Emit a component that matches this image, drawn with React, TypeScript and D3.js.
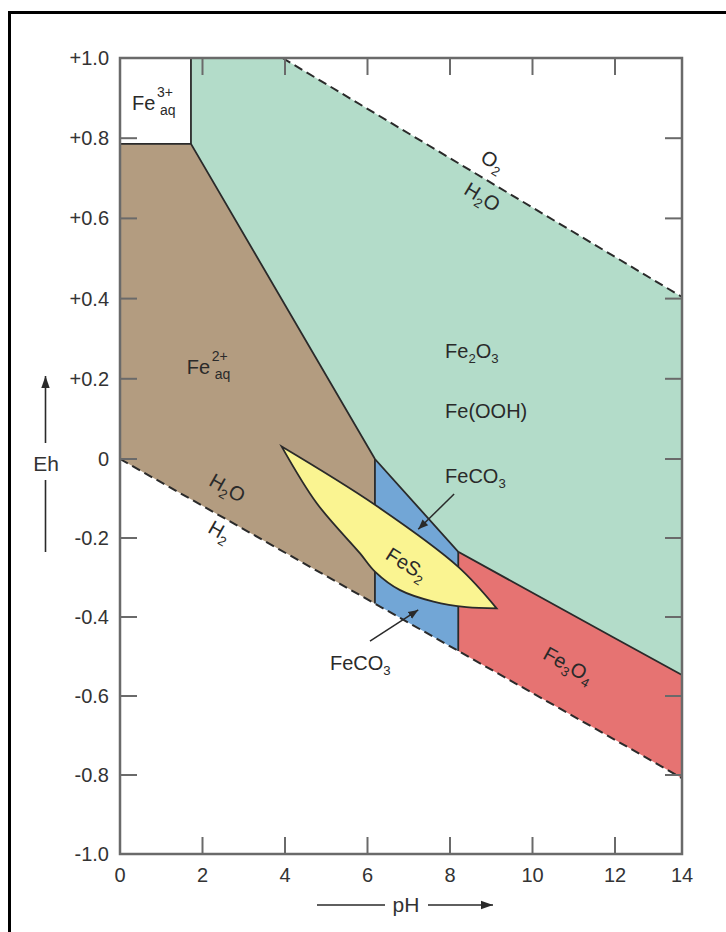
import React from 'react'
import * as d3 from 'd3'

// axis ticks
const phTicks = [0, 2, 4, 6, 8, 10, 12, 14]
const ehTicks = [1.0, 0.8, 0.6, 0.4, 0.2, 0, -0.2, -0.4, -0.6, -0.8, -1.0]
const ehTickLabels = ['+1.0', '+0.8', '+0.6', '+0.4', '+0.2', '0', '-0.2', '-0.4', '-0.6', '-0.8', '-1.0']

// stability fields, [pH, Eh]
const fe2Field = [[0, 0.786], [1.72, 0.786], [6.18, 0], [6.18, -0.366], [0, 0]]
const feco3Field = [[6.18, 0], [8.2, -0.235], [8.2, -0.486], [6.18, -0.366]]
const fe3o4Field = [[8.2, -0.235], [12, -0.454], [14, -0.547], [14, -0.808], [12, -0.711], [8.2, -0.486]]
const fe2o3Field = [[1.72, 1], [3.94, 1], [12, 0.504], [14, 0.404], [14, -0.547], [12, -0.454], [8.2, -0.235], [6.18, 0], [1.72, 0.786]]

// FeS2 lens, upper edge left->right, lower edge right->left
const fes2Upper = [[3.92, 0.031], [6.18, -0.116], [8.2, -0.273], [9.13, -0.378]]
const fes2Lower = [[9.13, -0.378], [8.4, -0.375], [7.6, -0.361], [6.79, -0.332], [6.18, -0.285], [5.82, -0.239], [4.77, -0.112], [3.92, 0.031]]

// boundaries
const solidLines = [
  [[1.72, 1], [1.72, 0.786]],
  [[0, 0.786], [1.72, 0.786], [6.18, 0], [8.2, -0.235], [12, -0.454], [14, -0.547]],
  [[6.18, 0], [6.18, -0.366]],
  [[8.2, -0.235], [8.2, -0.486]],
]
const waterUpper = [[3.94, 1], [12, 0.504], [14, 0.404]]
const waterLower = [[0, 0], [12, -0.711], [14, -0.808]]

const x = d3.scaleLinear().domain([0, 12, 14]).range([120, 615, 682])
const y = d3.scaleLinear().domain([-1, 0, 1]).range([854, 459, 58])

const font = '"Liberation Sans", Arial, sans-serif'
const ink = '#2a2a2a'
const axisColor = '#6a6a6a'

function Formula(props) {
  // parts: [text, 'sub' | 'sup' | null]
  const { px, py, angle = 0, parts, anchor = 'middle', size = 20 } = props
  let shift = 0
  const spans = parts.map((p, i) => {
    const target = p[1] === 'sub' ? 5 : 0
    const dy = target - shift
    shift = target
    return (
      <tspan key={i} dy={dy} fontSize={p[1] ? size * 0.66 : size}>{p[0]}</tspan>
    )
  })
  return (
    <text transform={`translate(${px},${py}) rotate(${angle})`} textAnchor={anchor}
      fontFamily={font} fill={ink}>
      {spans}
    </text>
  )
}

function Ion(props) {
  // Fe with stacked charge and aq
  const { px, py, charge } = props
  return (
    <g fontFamily={font} fill={ink}>
      <text x={px} y={py} fontSize={20}>Fe</text>
      <text x={px + 25} y={py - 13} fontSize={14}>{charge}</text>
      <text x={px + 28} y={py + 5} fontSize={14}>aq</text>
    </g>
  )
}

export default function App() {
  const line = d3.line().x(d => x(d[0])).y(d => y(d[1]))
  const poly = pts => line(pts) + 'Z'
  const curve = d3.line().x(d => x(d[0])).y(d => y(d[1])).curve(d3.curveCatmullRom.alpha(0.5))
  const fes2Path = curve(fes2Upper) + curve(fes2Lower).replace(/^M/, 'L') + 'Z'

  const x0 = x(0), x1 = x(14), yTop = y(1), yBot = y(-1)
  const tickLen = 17

  return (
    <svg width={726} height={932} style={{ position: 'absolute', left: 0, top: 0, background: '#fff' }}>
      <defs>
        <marker id="arrow" viewBox="0 0 10 10" refX="10" refY="5" markerWidth="10" markerHeight="10"
          markerUnits="userSpaceOnUse" orient="auto">
          <path d="M0,1 L10,5 L0,9 Z" fill={ink} />
        </marker>
        <marker id="bigArrow" viewBox="0 0 10 10" refX="10" refY="5" markerWidth="16" markerHeight="12"
          markerUnits="userSpaceOnUse" orient="auto">
          <path d="M0,1.5 L10,5 L0,8.5 Z" fill={ink} />
        </marker>
      </defs>

      <rect x={9.5} y={12.5} width={740} height={940} fill="none" stroke="#000" strokeWidth={3} />

      {/* fields */}
      <path d={poly(fe2o3Field)} fill="#b3dcc9" />
      <path d={poly(fe2Field)} fill="#b39c80" />
      <path d={poly(feco3Field)} fill="#72a6d6" />
      <path d={poly(fe3o4Field)} fill="#e67372" />

      {solidLines.map((l, i) => (
        <path key={i} d={line(l)} fill="none" stroke={ink} strokeWidth={1.8} />
      ))}
      <path d={fes2Path} fill="#faf491" stroke={ink} strokeWidth={1.8} strokeLinejoin="miter" />

      <path d={line(waterUpper)} fill="none" stroke={ink} strokeWidth={2} strokeDasharray="9,5" />
      <path d={line(waterLower)} fill="none" stroke={ink} strokeWidth={2} strokeDasharray="9,5" />

      {/* axes frame and ticks */}
      <rect x={x0} y={yTop} width={x1 - x0} height={yBot - yTop} fill="none" stroke={axisColor} strokeWidth={2.5} />
      {ehTicks.filter(v => v !== 1 && v !== -1).map(v => (
        <g key={v} stroke={axisColor} strokeWidth={2}>
          <line x1={x0} x2={x0 + tickLen} y1={y(v)} y2={y(v)} />
          <line x1={x1} x2={x1 - tickLen} y1={y(v)} y2={y(v)} />
        </g>
      ))}
      {phTicks.filter(v => v !== 0 && v !== 14).map(v => (
        <g key={v} stroke={axisColor} strokeWidth={2}>
          <line x1={x(v)} x2={x(v)} y1={yBot} y2={yBot - tickLen} />
          <line x1={x(v)} x2={x(v)} y1={yTop} y2={yTop + tickLen} />
        </g>
      ))}

      <g fontFamily={font} fontSize={20} fill="#333">
        {ehTicks.map((v, i) => (
          <text key={v} x={x0 - 11} y={y(v)} dy="0.35em" textAnchor="end">{ehTickLabels[i]}</text>
        ))}
        {phTicks.map(v => (
          <text key={v} x={x(v)} y={yBot + 28} textAnchor="middle">{v}</text>
        ))}
      </g>

      {/* axis titles */}
      <g stroke={ink} strokeWidth={1.6}>
        <line x1={45.5} x2={45.5} y1={552} y2={480} />
        <line x1={45.5} x2={45.5} y1={443} y2={376} markerEnd="url(#bigArrow)" />
        <line x1={317} x2={385} y1={905} y2={905} />
        <line x1={428} x2={493} y1={905} y2={905} markerEnd="url(#bigArrow)" />
      </g>
      <text x={46} y={471} textAnchor="middle" fontFamily={font} fontSize={21} fill="#333">Eh</text>
      <text x={406} y={912} textAnchor="middle" fontFamily={font} fontSize={21} fill="#333">pH</text>

      {/* field labels */}
      <Ion px={x(0.29)} py={y(0.87)} charge="3+" />
      <Ion px={x(1.62)} py={y(0.212)} charge="2+" />
      <Formula px={x(7.88)} py={y(0.252)} anchor="start" parts={[['Fe'], ['2', 'sub'], ['O'], ['3', 'sub']]} />
      <Formula px={x(7.88)} py={y(0.102)} anchor="start" parts={[['Fe(OOH)']]} />
      <Formula px={x(7.88)} py={y(-0.0615)} anchor="start" parts={[['FeCO'], ['3', 'sub']]} />
      <Formula px={x(5.09)} py={y(-0.534)} anchor="start" parts={[['FeCO'], ['3', 'sub']]} />
      <line x1={x(8.1)} y1={y(-0.0886)} x2={x(7.23)} y2={y(-0.178)} stroke={ink} strokeWidth={1.5} markerEnd="url(#arrow)" />
      <line x1={x(6.06)} y1={y(-0.461)} x2={x(7.23)} y2={y(-0.382)} stroke={ink} strokeWidth={1.5} markerEnd="url(#arrow)" />
      <Formula px={x(6.86)} py={y(-0.263) + 7} angle={32} parts={[['FeS'], ['2', 'sub']]} />
      <Formula px={x(10.79)} py={y(-0.519) + 7} angle={29} parts={[['Fe'], ['3', 'sub'], ['O'], ['4', 'sub']]} />
      <Formula px={x(8.95)} py={y(0.746) + 7} angle={31} parts={[['O'], ['2', 'sub']]} />
      <Formula px={x(8.7)} py={y(0.656) + 7} angle={31} parts={[['H'], ['2', 'sub'], ['O']]} />
      <Formula px={x(2.52)} py={y(-0.071) + 7} angle={29.6} parts={[['H'], ['2', 'sub'], ['O']]} />
      <Formula px={x(2.33)} py={y(-0.18) + 7} angle={29.6} parts={[['H'], ['2', 'sub']]} />
    </svg>
  )
}
